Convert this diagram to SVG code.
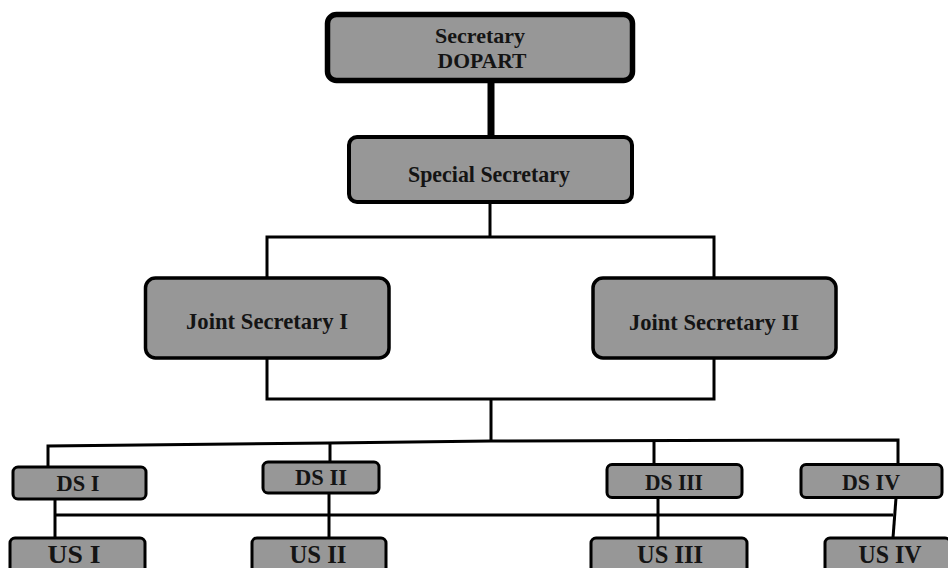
<svg xmlns="http://www.w3.org/2000/svg" width="948" height="568" viewBox="0 0 948 568">
<style>
.box{fill:#979797;stroke:#000;}
.t{font-family:"Liberation Serif","Times New Roman",serif;font-weight:bold;fill:#141414;text-anchor:middle;}
.c{fill:none;stroke:#000;stroke-width:3;stroke-linejoin:miter;}
</style>
<rect width="948" height="568" fill="#fff"/>
<g id="connectors">
<line x1="491" y1="80" x2="491" y2="137" stroke="#000" stroke-width="7"/>
<line x1="490" y1="202" x2="490" y2="238" class="c"/>
<polyline class="c" points="267,278 267,237 714,237 714,278"/>
<polyline class="c" points="267,358 267,399 714,399 714,358"/>
<line x1="491" y1="399" x2="491" y2="441" class="c"/>
<polyline class="c" points="48,467 48,446 330,443 491,441 898,440 898,464"/>
<line x1="330" y1="443" x2="330" y2="462" class="c"/>
<line x1="654" y1="440" x2="654" y2="464" class="c"/>
<line x1="55" y1="515" x2="893" y2="515" class="c"/>
<line x1="55" y1="500" x2="55" y2="537" class="c"/>
<line x1="329" y1="494" x2="329" y2="537" class="c"/>
<line x1="658" y1="498" x2="658" y2="537" class="c"/>
<line x1="896" y1="498" x2="893" y2="538" class="c"/>
</g>
<g id="secretary">
<rect class="box" x="327.5" y="14.5" width="305" height="66" rx="9" stroke-width="5.5"/>
<text class="t" x="480" y="43" font-size="22" textLength="90" lengthAdjust="spacingAndGlyphs">Secretary</text>
<text class="t" x="482" y="68" font-size="21" textLength="89" lengthAdjust="spacingAndGlyphs">DOPART</text>
</g>
<g id="special-secretary">
<rect class="box" x="349" y="137" width="283" height="65" rx="8" stroke-width="4"/>
<text class="t" x="489" y="182" font-size="23" textLength="162" lengthAdjust="spacingAndGlyphs">Special Secretary</text>
</g>
<g id="js1">
<rect class="box" x="145.5" y="278" width="243.5" height="80" rx="10" stroke-width="3.5"/>
<text class="t" x="267" y="329" font-size="23" textLength="162" lengthAdjust="spacingAndGlyphs">Joint Secretary I</text>
</g>
<g id="js2">
<rect class="box" x="593" y="278" width="243" height="80" rx="10" stroke-width="3.5"/>
<text class="t" x="714" y="330" font-size="23" textLength="170" lengthAdjust="spacingAndGlyphs">Joint Secretary II</text>
</g>
<g id="ds1">
<rect class="box" x="13" y="467" width="133" height="32" rx="5" stroke-width="3"/>
<text class="t" x="78" y="491" font-size="24" textLength="43" lengthAdjust="spacingAndGlyphs">DS I</text>
</g>
<g id="ds2">
<rect class="box" x="263" y="462" width="116" height="31" rx="5" stroke-width="3"/>
<text class="t" x="321" y="485" font-size="24" textLength="52" lengthAdjust="spacingAndGlyphs">DS II</text>
</g>
<g id="ds3">
<rect class="box" x="607" y="464.5" width="135" height="33" rx="5" stroke-width="3"/>
<text class="t" x="674" y="490" font-size="24" textLength="58" lengthAdjust="spacingAndGlyphs">DS III</text>
</g>
<g id="ds4">
<rect class="box" x="801" y="464.5" width="141" height="33" rx="5" stroke-width="3"/>
<text class="t" x="871" y="490" font-size="24" textLength="58" lengthAdjust="spacingAndGlyphs">DS IV</text>
</g>
<g id="us1">
<rect class="box" x="10" y="538" width="135" height="45" rx="5" stroke-width="3"/>
<text class="t" x="74" y="563" font-size="26" textLength="53" lengthAdjust="spacingAndGlyphs">US I</text>
</g>
<g id="us2">
<rect class="box" x="252" y="538" width="134" height="45" rx="5" stroke-width="3"/>
<text class="t" x="318" y="563" font-size="26" textLength="57" lengthAdjust="spacingAndGlyphs">US II</text>
</g>
<g id="us3">
<rect class="box" x="591" y="538" width="156" height="45" rx="5" stroke-width="3"/>
<text class="t" x="670" y="563" font-size="26" textLength="66" lengthAdjust="spacingAndGlyphs">US III</text>
</g>
<g id="us4">
<rect class="box" x="825" y="538" width="125" height="45" rx="5" stroke-width="3"/>
<text class="t" x="890" y="563" font-size="26" textLength="63" lengthAdjust="spacingAndGlyphs">US IV</text>
</g>
</svg>
